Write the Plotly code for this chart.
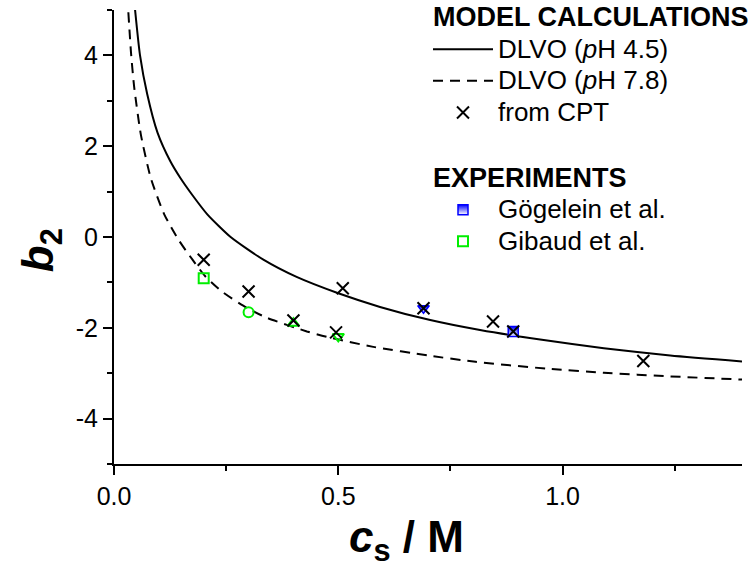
import plotly.graph_objects as go

# ---- data ----
cs_ph45 = [0.047, 0.058, 0.074, 0.097, 0.125, 0.148, 0.175, 0.208, 0.26, 0.333, 0.407, 0.5, 0.593, 0.705, 0.816, 0.95, 1.092, 1.24, 1.40]
b2_ph45 = [5.0, 4.0, 3.15, 2.30, 1.68, 1.30, 0.92, 0.50, 0.0, -0.50, -0.88, -1.24, -1.54, -1.83, -2.05, -2.26, -2.45, -2.61, -2.74]

cs_ph78 = [0.032, 0.038, 0.045, 0.060, 0.082, 0.112, 0.145, 0.175, 0.203, 0.243, 0.296, 0.341, 0.43, 0.475, 0.578, 0.70, 0.806, 0.965, 1.092, 1.24, 1.40]
b2_ph78 = [4.95, 4.05, 3.30, 2.25, 1.30, 0.50, -0.08, -0.50, -0.86, -1.22, -1.56, -1.78, -2.08, -2.20, -2.42, -2.61, -2.75, -2.90, -2.99, -3.07, -3.14]

cpt_cs = [0.2, 0.3, 0.4, 0.495, 0.51, 0.69, 0.845, 0.89, 1.18]
cpt_b2 = [-0.5, -1.2, -1.84, -2.1, -1.13, -1.57, -1.86, -2.08, -2.73]

gog_cs = [0.89, 0.69]
gog_b2 = [-2.08, -1.57]
gog_symbols = ["square", "triangle-down"]

gib_cs = [0.2, 0.3, 0.4, 0.5]
gib_b2 = [-0.91, -1.66, -1.90, -2.19]
gib_symbols = ["square-open", "circle-open", "triangle-up-open", "triangle-down-open"]

x_tickvals = [0.0, 0.5, 1.0]
x_ticktext = ["0.0", "0.5", "1.0"]
x_minorvals = [0.25, 0.75, 1.25]
y_tickvals = [-4, -2, 0, 2, 4]
y_ticktext = ["-4", "-2", "0", "2", "4"]
y_minorvals = [-5, -3, -1, 1, 3, 5]

FONT = "Arial, 'Liberation Sans', sans-serif"


def big(t, size=26):
    return f'<span style="font-size:{size}px">{t}</span>'


fig = go.Figure()

fig.add_trace(go.Scatter(
    x=cs_ph45, y=b2_ph45, mode="lines", name=big("DLVO (<i>p</i>H 4.5)"),
    line=dict(color="black", width=2, shape="spline", smoothing=0.6),
    legendgroup="model", legendrank=1,
    legendgrouptitle=dict(text=big("<b>MODEL CALCULATIONS</b>", 27), font=dict(size=22, color="black", family=FONT)),
))
fig.add_trace(go.Scatter(
    x=cs_ph78, y=b2_ph78, mode="lines", name=big("DLVO (<i>p</i>H 7.8)"),
    line=dict(color="black", width=2, dash="10px,7px", shape="spline", smoothing=0.6),
    legendgroup="model", legendrank=2,
))
fig.add_trace(go.Scatter(
    x=gib_cs, y=gib_b2, mode="markers", name=big("Gibaud et al."),
    marker=dict(symbol=gib_symbols, size=10, color="#00ee00", line=dict(color="#00ee00", width=2)),
    legendgroup="exp", legendrank=5,
))
fig.add_trace(go.Scatter(
    x=gog_cs, y=gog_b2, mode="markers", name=big("Gögelein et al."),
    marker=dict(symbol=gog_symbols, size=10, color="#0000ff",
                gradient=dict(type="vertical", color="white"),
                line=dict(color="#0000ff", width=1.5)),
    legendgroup="exp", legendrank=4,
    legendgrouptitle=dict(text=big("<b>EXPERIMENTS</b>", 27), font=dict(size=22, color="black", family=FONT)),
))
fig.add_trace(go.Scatter(
    x=cpt_cs, y=cpt_b2, mode="markers", name=big("from CPT"),
    marker=dict(symbol="x-thin-open", size=12, color="black", line=dict(color="black", width=2)),
    legendgroup="model", legendrank=3,
))

fig.update_layout(
    width=749, height=569,
    margin=dict(l=114, r=7, t=10, b=105, autoexpand=False),
    paper_bgcolor="white", plot_bgcolor="white",
    font=dict(family=FONT, color="black", size=22),
    showlegend=True,
    legend=dict(
        x=0.5, y=1.029, xanchor="left", yanchor="top",
        bgcolor="rgba(0,0,0,0)", font=dict(size=22, color="black", family=FONT),
        tracegroupgap=34, itemwidth=60,
    ),
    annotations=[
        dict(text="<b><i>c</i><sub>s</sub> / M</b>", xref="paper", yref="paper",
             x=0.465, y=-0.167, xanchor="center", yanchor="middle", showarrow=False,
             font=dict(size=44, family=FONT, color="black")),
        dict(text="<b><i>b</i><sub>2</sub></b>", xref="paper", yref="paper",
             x=-0.117, y=0.47, xanchor="center", yanchor="middle", showarrow=False,
             textangle=-90, font=dict(size=44, family=FONT, color="black")),
    ],
)

fig.update_xaxes(
    range=[0, 1.4], showline=True, linecolor="black", linewidth=2,
    showgrid=False, zeroline=False, mirror=False,
    tickmode="array", tickvals=x_tickvals, ticktext=x_ticktext,
    ticks="outside", ticklen=9, tickwidth=2, tickcolor="black",
    tickfont=dict(size=25, family=FONT),
    minor=dict(tickmode="array", tickvals=x_minorvals, ticks="outside", ticklen=5, tickwidth=2, tickcolor="black"),
)
fig.update_yaxes(
    range=[-5, 5], showline=True, linecolor="black", linewidth=2,
    showgrid=False, zeroline=False, mirror=False,
    tickmode="array", tickvals=y_tickvals, ticktext=y_ticktext,
    ticks="outside", ticklen=9, tickwidth=2, tickcolor="black",
    tickfont=dict(size=25, family=FONT),
    minor=dict(tickmode="array", tickvals=y_minorvals, ticks="outside", ticklen=5, tickwidth=2, tickcolor="black"),
)

fig.write_html("out.html")
